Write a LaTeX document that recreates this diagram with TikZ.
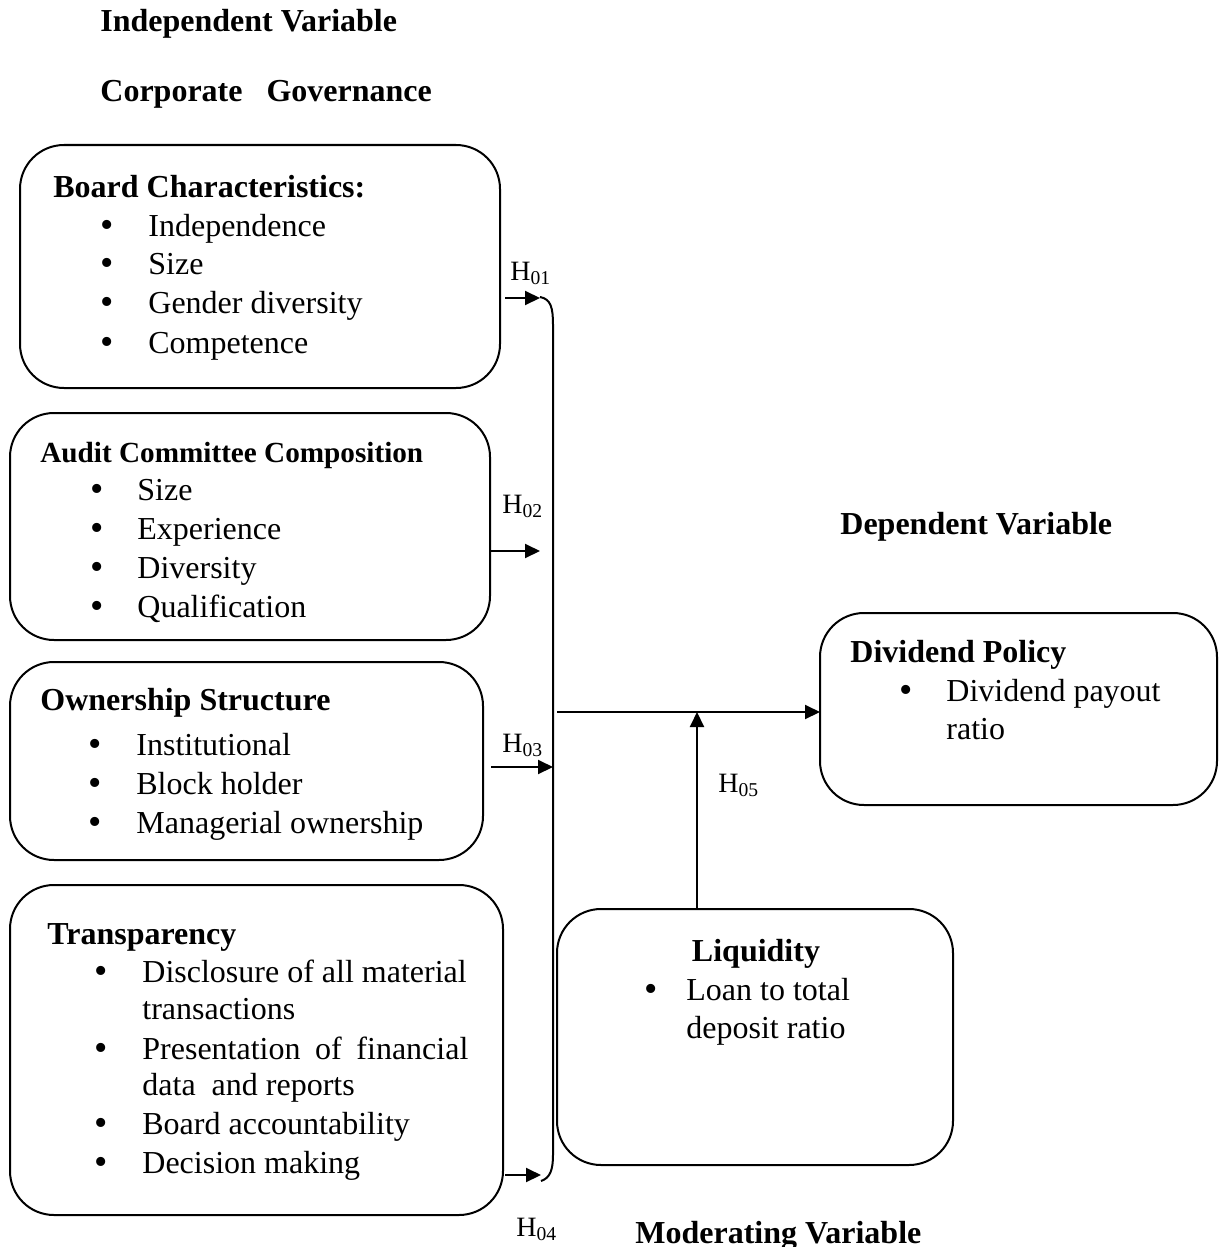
\documentclass[tikz,border=0pt]{standalone}
\usepackage{fontspec}
\setmainfont{Liberation Serif}
\usetikzlibrary{arrows.meta,calc}
\begin{document}
\begin{tikzpicture}[x=0.5pt,y=-0.5pt,
  box/.style={draw,line width=1pt,rounded corners=22pt,inner sep=0pt,outer sep=0pt},
  txt/.style={anchor=base west,inner sep=0pt,font=\fontsize{16pt}{19.5pt}\selectfont},
  hd/.style={txt,font=\fontsize{16pt}{19.5pt}\selectfont\bfseries},
  bul/.style={anchor=base,inner sep=0pt,font=\fontsize{19pt}{19.5pt}\selectfont},
  hlab/.style={anchor=base west,inner sep=0pt,font=\fontsize{14pt}{16pt}\selectfont},
  arr/.style={line width=1pt,-{Triangle[length=7.5pt,width=7pt]}},
  brk/.style={line width=1pt}]
\useasboundingbox (0,0) rectangle (1225,1247);

% titles
\node[hd] (t1) at (100,32) {Independent Variable};
\node[hd] (t2) at (100,102) {Corporate\hspace{12pt}Governance};
\node[hd] (t3) at (840,534) {Dependent Variable};
\node[hd] (t4) at (635,1243) {Moderating Variable};

% boxes
\node[box,minimum width=240pt,minimum height=121.5pt] (b1) at (260,266.5) {};
\node[box,minimum width=240pt,minimum height=113.5pt] (b2) at (250,526.5) {};
\node[box,minimum width=236.5pt,minimum height=99pt] (b3) at (246.5,761) {};
\node[box,minimum width=246.5pt,minimum height=165pt] (b4) at (256.5,1050) {};
\node[box,minimum width=198.5pt,minimum height=96pt] (div) at (1018.5,709) {};
\node[box,minimum width=198pt,minimum height=128pt] (liq) at (755,1037) {};

% box 1
\node[hd] (b1h) at (53,197) {Board Characteristics:};
\node[bul] (b1b1) at (107,237) {•}; \node[txt] (b1t1) at (148,236) {Independence};
\node[bul] (b1b2) at (107,275) {•}; \node[txt] (b1t2) at (148,274) {Size};
\node[bul] (b1b3) at (107,314) {•}; \node[txt] (b1t3) at (148,313) {Gender diversity};
\node[bul] (b1b4) at (107,354) {•}; \node[txt] (b1t4) at (148,353) {Competence};

% box 2
\node[txt,font=\fontsize{14.6pt}{18pt}\selectfont\bfseries] (b2h) at (40,462) {Audit Committee Composition};
\node[bul] (b2b1) at (97,501) {•}; \node[txt] (b2t1) at (137,500) {Size};
\node[bul] (b2b2) at (97,540) {•}; \node[txt] (b2t2) at (137,539) {Experience};
\node[bul] (b2b3) at (97,579) {•}; \node[txt] (b2t3) at (137,578) {Diversity};
\node[bul] (b2b4) at (97,618) {•}; \node[txt] (b2t4) at (137,617) {Qualification};

% box 3
\node[hd] (b3h) at (40,710) {Ownership Structure};
\node[bul] (b3b1) at (95,756) {•}; \node[txt] (b3t1) at (136,755) {Institutional};
\node[bul] (b3b2) at (95,795) {•}; \node[txt] (b3t2) at (136,794) {Block holder};
\node[bul] (b3b3) at (95,834) {•}; \node[txt] (b3t3) at (136,833) {Managerial ownership};

% box 4
\node[hd] (b4h) at (47,944) {Transparency};
\node[bul] (b4b1) at (101,983) {•}; \node[txt] (b4t1) at (142,982) {Disclosure of all material};
\node[txt] (b4t1b) at (142,1019) {transactions};
\node[bul] (b4b2) at (101,1060) {•}; \node[txt] (b4t2) at (142,1059) {\makebox[163pt][s]{Presentation of financial}};
\node[txt] (b4t2b) at (142,1095) {data\ \ and reports};
\node[bul] (b4b3) at (101,1135) {•}; \node[txt] (b4t3) at (142,1134) {Board accountability};
\node[bul] (b4b4) at (101,1174) {•}; \node[txt] (b4t4) at (142,1173) {Decision making};

% dividend
\node[hd] (dh) at (850,662) {Dividend Policy};
\node[bul] (db1) at (906,702) {•}; \node[txt] (dt1) at (946,701) {Dividend payout};
\node[txt] (dt1b) at (946,739) {ratio};

% liquidity
\node[hd,anchor=base] (lh) at (756,961) {Liquidity};
\node[bul] (lb1) at (651,1001) {•}; \node[txt] (lt1) at (686,1000) {Loan to total};
\node[txt] (lt1b) at (686,1038) {deposit ratio};

% bracket
\coordinate (bt) at (540,297);
\coordinate (bb) at (541,1181);
\draw[brk] (bt) .. controls (551,299) and (553,308) .. (553,325) -- (553,1155)
  .. controls (553,1170) and (550,1178) .. (bb);

% hypothesis arrows
\coordinate (h1s) at (505,298);
\coordinate (h2s) at (491,551);
\coordinate (h2e) at (540,551);
\coordinate (h3s) at (491,767);
\coordinate (h3e) at (553,767);
\coordinate (h4s) at (505,1175);
\coordinate (h4e) at (541,1175);
\draw[arr] (h1s) -- (bt |- h1s);
\draw[arr] (h2s) -- (h2e);
\draw[arr] (h3s) -- (h3e);
\draw[arr] (h4s) -- (h4e);

\coordinate (ms) at (557,712);
\coordinate (mj) at (697,712);
\draw[arr] (ms) -- (div.west |- ms);
\draw[arr] (liq.north -| mj) -- (mj);

% labels
\node[hlab] (l1) at (510,280) {H\textsubscript{01}};
\node[hlab] (l2) at (502,513) {H\textsubscript{02}};
\node[hlab] (l3) at (502,752) {H\textsubscript{03}};
\node[hlab] (l4) at (516,1236) {H\textsubscript{04}};
\node[hlab] (l5) at (718,792) {H\textsubscript{05}};
\end{tikzpicture}
\end{document}
